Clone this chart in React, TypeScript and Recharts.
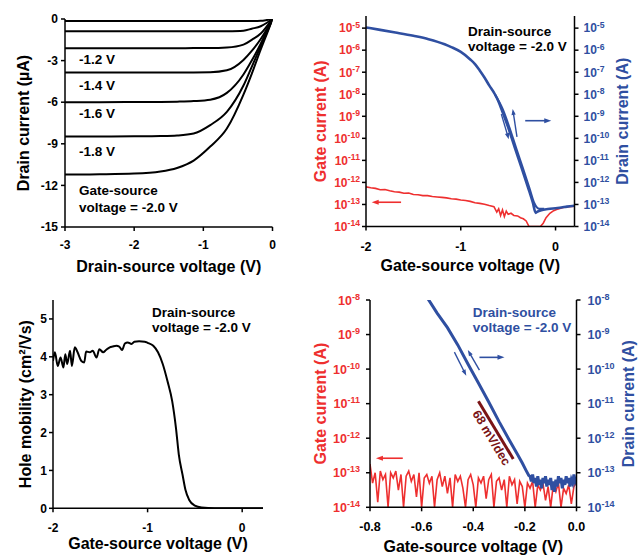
import { LineChart, Line, XAxis, YAxis, ReferenceLine, Label } from "recharts";

const FONT = "'Liberation Sans', Arial, Helvetica, sans-serif";
const RED = "#ee2f2f";
const BLUE = "#2f4fa1";
const DARK_RED = "#7a1416";

// Output curves: drain current (µA) vs drain-source voltage (V)
const vdsPoints = [-3, -2.5, -2, -1.62, -1.38, -1.14, -0.9, -0.66, -0.42, -0.3, -0.17, -0.08, 0];
const idVgs08 = [-0.15, -0.15, -0.15, -0.15, -0.15, -0.15, -0.15, -0.15, -0.15, -0.15, -0.13, -0.07, 0];
const idVgs10 = [-0.89, -0.89, -0.89, -0.89, -0.89, -0.89, -0.89, -0.88, -0.84, -0.7, -0.52, -0.27, 0];
const idVgs12 = [-2.11, -2.11, -2.11, -2.11, -2.11, -2.1, -2.1, -2.06, -1.85, -1.5, -1.05, -0.52, 0];
const idVgs14 = [-3.86, -3.86, -3.86, -3.86, -3.86, -3.85, -3.84, -3.7, -2.95, -2.3, -1.44, -0.72, 0];
const idVgs16 = [-6.0, -6.0, -5.99, -5.98, -5.96, -5.92, -5.82, -5.33, -4.0, -3.0, -1.78, -0.85, 0];
const idVgs18 = [-8.48, -8.47, -8.46, -8.44, -8.4, -8.26, -7.65, -6.7, -4.8, -3.45, -1.95, -0.95, 0];
const idVgs20 = [-11.22, -11.2, -11.15, -11.0, -10.74, -10.21, -9.2, -7.9, -5.45, -3.95, -2.2, -1.05, 0];
const outputTicksX = [-3, -2, -1, 0];
const outputTicksY = [-15, -12, -9, -6, -3, 0];
const outputLabels = ["-1.2 V", "-1.4 V", "-1.6 V", "-1.8 V"];

// Transfer curve (log10 of current in A) vs gate-source voltage
const drainDownV = [-2.0, -1.85, -1.69, -1.5, -1.34, -1.17, -1.1, -1.0, -0.9, -0.85, -0.8, -0.75, -0.7, -0.64, -0.6, -0.57, -0.5, -0.43, -0.36, -0.29, -0.24, -0.21, -0.19, -0.15, -0.08, 0.0, 0.06, 0.12, 0.2];
const drainDownLog = [-4.97, -5.08, -5.2, -5.35, -5.5, -5.73, -5.86, -6.08, -6.42, -6.63, -6.92, -7.24, -7.6, -8.0, -8.35, -8.68, -9.5, -10.42, -11.32, -12.23, -12.91, -13.38, -13.32, -13.26, -13.21, -13.17, -13.14, -13.1, -13.06];
const drainUpV = [-0.64, -0.558, -0.488, -0.418, -0.348, -0.278, -0.228, -0.2, -0.17, -0.12];
const drainUpLog = [-8.0, -8.68, -9.5, -10.42, -11.32, -12.23, -12.91, -13.12, -13.2, -13.2];
const gateV = [-2.0, -1.95, -1.9, -1.85, -1.8, -1.75, -1.7, -1.65, -1.6, -1.55, -1.5, -1.45, -1.4, -1.35, -1.3, -1.25, -1.2, -1.15, -1.1, -1.05, -1.0, -0.95, -0.9, -0.85, -0.8, -0.75, -0.7, -0.65, -0.62, -0.6, -0.58, -0.56, -0.54, -0.52, -0.5, -0.47, -0.44, -0.4, -0.37, -0.34, -0.31, -0.28, -0.22, -0.16, -0.13, -0.1, -0.06, -0.02, 0.03, 0.08, 0.14, 0.2];
const gateLog = [-12.2, -12.24, -12.27, -12.33, -12.32, -12.38, -12.42, -12.44, -12.49, -12.48, -12.55, -12.56, -12.6, -12.6, -12.64, -12.66, -12.68, -12.7, -12.74, -12.76, -12.8, -12.82, -12.86, -12.92, -12.95, -12.99, -13.05, -13.1, -13.35, -13.2, -13.5, -13.25, -13.55, -13.3, -13.45, -13.4, -13.5, -13.52, -13.6, -13.65, -13.75, -14.0, -14.0, -14.0, -13.85, -13.6, -13.4, -13.28, -13.2, -13.14, -13.1, -13.08];
const transferTicksX = [-2, -1, 0];
const transferTicksY = [1e-14, 1e-13, 1e-12, 1e-11, 1e-10, 1e-9, 1e-8, 1e-7, 1e-6, 1e-5];

// Hole mobility (cm²/Vs) vs gate-source voltage
const mobilityV = [-2.0, -1.98, -1.95, -1.92, -1.89, -1.87, -1.85, -1.82, -1.8, -1.77, -1.74, -1.7, -1.67, -1.65, -1.61, -1.58, -1.54, -1.51, -1.47, -1.44, -1.4, -1.37, -1.33, -1.3, -1.27, -1.24, -1.21, -1.17, -1.14, -1.09, -1.03, -1.0, -0.94, -0.89, -0.84, -0.79, -0.74, -0.7, -0.67, -0.63, -0.6, -0.56, -0.5, -0.43, -0.29, 0.22];
const mobility = [3.89, 4.12, 3.76, 3.98, 3.72, 4.07, 3.81, 4.16, 3.76, 4.25, 4.12, 3.89, 3.85, 4.14, 4.12, 4.16, 3.98, 4.2, 4.12, 4.18, 4.25, 4.27, 4.29, 4.27, 4.18, 4.35, 4.38, 4.34, 4.4, 4.41, 4.4, 4.37, 4.29, 4.12, 3.81, 3.36, 2.83, 2.12, 1.42, 0.88, 0.49, 0.22, 0.07, 0.02, 0, 0];
const mobilityTicksY = [0, 1, 2, 3, 4, 5];

// Subthreshold region (log10 of current in A)
const subDrainV = [-0.575, -0.54, -0.5, -0.46, -0.42, -0.38, -0.34, -0.3, -0.26, -0.23, -0.21, -0.195, -0.185, -0.18, -0.175, -0.17, -0.165, -0.16, -0.155, -0.15, -0.145, -0.14, -0.135, -0.13, -0.125, -0.12, -0.115, -0.11, -0.105, -0.1, -0.095, -0.09, -0.085, -0.08, -0.075, -0.07, -0.065, -0.06, -0.055, -0.05, -0.045, -0.04, -0.035, -0.03, -0.025, -0.02, -0.015, -0.01, -0.005, 0];
const subDrainLog = [-7.97, -8.38, -8.8, -9.3, -9.86, -10.4, -10.95, -11.52, -12.06, -12.45, -12.72, -12.94, -13.08, -13.1, -13.25, -13.05, -13.3, -13.15, -13.4, -13.1, -13.35, -13.2, -13.45, -13.15, -13.3, -13.1, -13.4, -13.2, -13.35, -13.15, -13.5, -13.25, -13.55, -13.2, -13.4, -13.1, -13.3, -13.15, -13.45, -13.2, -13.35, -13.1, -13.3, -13.15, -13.4, -13.2, -13.3, -13.05, -13.25, -13.15];
const subGateV = [-0.8, -0.79, -0.78, -0.77, -0.76, -0.75, -0.74, -0.73, -0.72, -0.71, -0.7, -0.69, -0.68, -0.67, -0.66, -0.65, -0.64, -0.63, -0.62, -0.61, -0.6, -0.59, -0.58, -0.57, -0.56, -0.55, -0.54, -0.53, -0.52, -0.51, -0.5, -0.49, -0.48, -0.47, -0.46, -0.45, -0.44, -0.43, -0.42, -0.41, -0.4, -0.39, -0.38, -0.37, -0.36, -0.35, -0.34, -0.33, -0.32, -0.31, -0.3, -0.29, -0.28, -0.27, -0.26, -0.25, -0.24, -0.23, -0.22, -0.21, -0.2, -0.19, -0.18, -0.17, -0.16, -0.15, -0.14, -0.13, -0.12, -0.11, -0.1, -0.09, -0.08, -0.07, -0.06, -0.05, -0.04, -0.03, -0.02, -0.01, 0];
const subGateLog = [-12.75, -13.3, -13.0, -13.85, -12.95, -13.2, -13.05, -14.0, -13.0, -13.15, -12.95, -13.5, -13.05, -14.0, -13.1, -12.95, -13.25, -13.05, -13.7, -13.0, -14.0, -13.15, -13.05, -13.3, -13.1, -14.0, -13.2, -13.0, -13.4, -13.1, -13.6, -13.15, -14.0, -13.05, -13.25, -13.1, -13.45, -14.0, -13.2, -13.05, -13.35, -14.0, -13.15, -13.3, -13.1, -13.75, -13.2, -13.05, -14.0, -13.25, -13.15, -13.5, -13.2, -14.0, -13.1, -13.35, -13.2, -13.9, -13.25, -13.4, -14.0, -13.3, -13.45, -13.25, -14.0, -13.35, -13.5, -13.3, -13.8, -13.4, -14.0, -13.35, -13.55, -13.3, -14.0, -13.45, -13.6, -13.35, -13.9, -13.4, -13.25];
const subTicksX = [-0.8, -0.6, -0.4, -0.2, 0];
const subTicksY = [1e-14, 1e-13, 1e-12, 1e-11, 1e-10, 1e-9, 1e-8];

const toTable = (xs: number[], ys: number[]) => xs.map((x, i) => ({ x, y: ys[i] }));
const toLogTable = (xs: number[], logs: number[]) => xs.map((x, i) => ({ x, y: Math.pow(10, logs[i]) }));

const tickFont = (size: number, fill = "#000") => ({ fill, fontSize: size, fontWeight: "bold", fontFamily: FONT });
const titleProps = { fontSize: 16, fontWeight: "bold", fontFamily: FONT } as const;
const noteProps = { fontSize: 13.5, fontWeight: "bold", fontFamily: FONT } as const;

function PowTick({ x, y, payload, textAnchor, color, size }: any) {
  const exp = Math.round(Math.log10(payload.value));
  return (
    <text x={x} y={y + size * 0.36} textAnchor={textAnchor} fill={color} fontFamily={FONT} fontWeight="bold" fontSize={size}>
      10<tspan dy={-size * 0.4} fontSize={size * 0.72}>{exp}</tspan>
    </text>
  );
}

const arrowShape = (color: string, head = 7, width = 1.6) => (p: any) => {
  const { x1, y1, x2, y2 } = p;
  const a = Math.atan2(y2 - y1, x2 - x1);
  const c = Math.cos(a);
  const s = Math.sin(a);
  const bx = x2 - head * c;
  const by = y2 - head * s;
  const hw = head * 0.36;
  return (
    <g>
      <line x1={x1} y1={y1} x2={bx + c} y2={by + s} stroke={color} strokeWidth={width} />
      <polygon points={`${x2},${y2} ${bx - hw * s},${by + hw * c} ${bx + hw * s},${by - hw * c}`} fill={color} />
    </g>
  );
};

const frame = { stroke: "#000", strokeWidth: 1.5 };

function OutputPanel() {
  const curves = [idVgs08, idVgs10, idVgs12, idVgs14, idVgs16, idVgs18, idVgs20];
  const labelY = [64, 90, 118, 155.5];
  return (
    <LineChart width={300} height={280} margin={{ top: 19, right: 27.5, bottom: 3, left: 0 }}>
      <XAxis dataKey="x" type="number" domain={[-3, 0]} ticks={outputTicksX} height={50} tickSize={4} tickMargin={9.5} {...frame} tick={tickFont(12)} allowDataOverflow>
        <Label value="Drain-source voltage (V)" position="insideBottom" offset={5.3} fill="#000" {...titleProps} />
      </XAxis>
      <XAxis xAxisId="top" orientation="top" type="number" domain={[-3, 0]} height={0} tick={false} tickLine={false} {...frame} />
      <YAxis type="number" domain={[-15, 0]} ticks={outputTicksY} interval={0} width={65} tickSize={4} tickMargin={3} {...frame} tick={tickFont(12)} allowDataOverflow>
        <Label value="Drain current (µA)" angle={-90} position="insideLeft" offset={23} textAnchor="middle" fill="#000" {...titleProps} />
      </YAxis>
      <YAxis yAxisId="right" orientation="right" type="number" domain={[-15, 0]} width={0} tick={false} tickLine={false} {...frame} />
      {curves.map((c, i) => (
        <Line key={i} data={toTable(vdsPoints, c)} dataKey="y" type="monotone" stroke="#000" strokeWidth={2} dot={false} isAnimationActive={false} />
      ))}
      {outputLabels.map((t, i) => (
        <text key={t} x={79} y={labelY[i]} fill="#000" {...noteProps}>{t}</text>
      ))}
      <text x={79} y={195} fill="#000" {...noteProps}>Gate-source</text>
      <text x={79} y={211.5} fill="#000" {...noteProps}>voltage = -2.0 V</text>
    </LineChart>
  );
}

function TransferPanel() {
  const dom: [number, number] = [1e-14, Math.pow(10, -4.45)];
  return (
    <LineChart width={338} height={280} margin={{ top: 16, right: 0, bottom: 3.5, left: 0 }}>
      <XAxis dataKey="x" type="number" domain={[-2, 0.2]} ticks={transferTicksX} height={50} tickSize={4} tickMargin={11.3} {...frame} tick={tickFont(12.5)} allowDataOverflow>
        <Label value="Gate-source voltage (V)" position="insideBottom" offset={5.5} fill="#000" {...titleProps} />
      </XAxis>
      <XAxis xAxisId="top" orientation="top" type="number" domain={[-2, 0.2]} height={0} tick={false} tickLine={false} {...frame} />
      <YAxis scale="log" type="number" domain={dom} ticks={transferTicksY} interval={0} width={66} tickSize={4} tickMargin={2} {...frame} tick={(p: any) => <PowTick {...p} color={RED} size={12} />} allowDataOverflow>
        <Label value="Gate current (A)" angle={-90} position="insideLeft" offset={20.7} textAnchor="middle" fill={RED} {...titleProps} />
      </YAxis>
      <YAxis yAxisId="r" orientation="right" scale="log" type="number" domain={dom} ticks={transferTicksY} interval={0} width={63.5} tickSize={4} tickMargin={5} {...frame} tick={(p: any) => <PowTick {...p} color={BLUE} size={12} />} allowDataOverflow>
        <Label value="Drain current (A)" angle={-90} position="insideRight" offset={16} textAnchor="middle" fill={BLUE} {...titleProps} />
      </YAxis>
      <Line data={toLogTable(gateV, gateLog)} dataKey="y" type="linear" stroke={RED} strokeWidth={1.6} dot={false} isAnimationActive={false} />
      <Line data={toLogTable(drainUpV, drainUpLog)} dataKey="y" type="monotone" stroke={BLUE} strokeWidth={2.2} dot={false} isAnimationActive={false} />
      <Line data={toLogTable(drainDownV, drainDownLog)} dataKey="y" type="monotone" stroke={BLUE} strokeWidth={2.6} dot={false} isAnimationActive={false} />
      <ReferenceLine segment={[{ x: -1.63, y: Math.pow(10, -12.9) }, { x: -1.94, y: Math.pow(10, -12.9) }]} shape={arrowShape(RED)} />
      <ReferenceLine segment={[{ x: -0.32, y: Math.pow(10, -9.2) }, { x: -0.045, y: Math.pow(10, -9.2) }]} shape={arrowShape(BLUE)} />
      <ReferenceLine segment={[{ x: -0.572, y: Math.pow(10, -8.9) }, { x: -0.494, y: Math.pow(10, -10.04) }]} shape={arrowShape(BLUE, 6, 1.4)} />
      <ReferenceLine segment={[{ x: -0.407, y: Math.pow(10, -9.93) }, { x: -0.452, y: Math.pow(10, -8.67) }]} shape={arrowShape(BLUE, 6, 1.4)} />
      <text x={168} y={36} fill="#000" {...noteProps}>Drain-source</text>
      <text x={168} y={50.5} fill="#000" {...noteProps}>voltage = -2.0 V</text>
    </LineChart>
  );
}

function MobilityPanel() {
  return (
    <LineChart width={300} height={278} margin={{ top: 20, right: 37, bottom: 4.7, left: 0 }}>
      <XAxis dataKey="x" type="number" domain={[-2, 0.22]} ticks={transferTicksX} height={45} tickSize={4} tickMargin={11.5} {...frame} tick={tickFont(12)} allowDataOverflow>
        <Label value="Gate-source voltage (V)" position="insideBottom" offset={4.3} fill="#000" {...titleProps} />
      </XAxis>
      <XAxis xAxisId="top" orientation="top" type="number" domain={[-2, 0.22]} height={0} tick={false} tickLine={false} {...frame} />
      <YAxis type="number" domain={[0, 5.5]} ticks={mobilityTicksY} interval={0} width={53} tickSize={4} tickMargin={2} {...frame} tick={tickFont(12)} allowDataOverflow>
        <Label value="Hole mobility (cm²/Vs)" angle={-90} position="insideLeft" offset={25} textAnchor="middle" fill="#000" {...titleProps} />
      </YAxis>
      <YAxis yAxisId="right" orientation="right" type="number" domain={[0, 5.5]} width={0} tick={false} tickLine={false} {...frame} />
      <Line data={toTable(mobilityV, mobility)} dataKey="y" type="monotone" stroke="#000" strokeWidth={2} dot={false} isAnimationActive={false} />
      <text x={152} y={37} fill="#000" {...noteProps}>Drain-source</text>
      <text x={152} y={51.5} fill="#000" {...noteProps}>voltage = -2.0 V</text>
    </LineChart>
  );
}

function SubthresholdPanel() {
  const dom: [number, number] = [1e-14, 1e-8];
  return (
    <LineChart width={338} height={278} margin={{ top: 20, right: 0, bottom: 2.7, left: 0 }}>
      <XAxis dataKey="x" type="number" domain={[-0.8, 0]} ticks={subTicksX} tickFormatter={(v: number) => v.toFixed(1)} height={48} tickSize={4} tickMargin={10.5} {...frame} tick={tickFont(12.5)} allowDataOverflow>
        <Label value="Gate-source voltage (V)" position="insideBottom" offset={3.6} fill="#000" {...titleProps} />
      </XAxis>
      <XAxis xAxisId="top" orientation="top" type="number" domain={[-0.8, 0]} height={0} tick={false} tickLine={false} {...frame} />
      <YAxis scale="log" type="number" domain={dom} ticks={subTicksY} interval={0} width={70} tickSize={4} tickMargin={6} {...frame} tick={(p: any) => <PowTick {...p} color={RED} size={12.5} />} allowDataOverflow>
        <Label value="Gate current (A)" angle={-90} position="insideLeft" offset={20.7} textAnchor="middle" fill={RED} {...titleProps} />
      </YAxis>
      <YAxis yAxisId="r" orientation="right" scale="log" type="number" domain={dom} ticks={subTicksY} interval={0} width={61.5} tickSize={4} tickMargin={7} {...frame} tick={(p: any) => <PowTick {...p} color={BLUE} size={12.5} />} allowDataOverflow>
        <Label value="Drain current (A)" angle={-90} position="insideRight" offset={9.5} textAnchor="middle" fill={BLUE} {...titleProps} />
      </YAxis>
      <Line data={toLogTable(subGateV, subGateLog)} dataKey="y" type="linear" stroke={RED} strokeWidth={1.6} dot={false} isAnimationActive={false} />
      <Line data={toLogTable(subDrainV, subDrainLog)} dataKey="y" type="linear" stroke={BLUE} strokeWidth={3} dot={false} isAnimationActive={false} />
      <ReferenceLine segment={[{ x: -0.38, y: Math.pow(10, -10.93) }, { x: -0.245, y: Math.pow(10, -12.6) }]} stroke={DARK_RED} strokeWidth={3} />
      <ReferenceLine segment={[{ x: -0.673, y: Math.pow(10, -12.58) }, { x: -0.777, y: Math.pow(10, -12.58) }]} shape={arrowShape(RED)} />
      <ReferenceLine segment={[{ x: -0.376, y: Math.pow(10, -9.66) }, { x: -0.279, y: Math.pow(10, -9.66) }]} shape={arrowShape(BLUE)} />
      <ReferenceLine segment={[{ x: -0.473, y: Math.pow(10, -9.51) }, { x: -0.427, y: Math.pow(10, -10.19) }]} shape={arrowShape(BLUE, 6, 1.4)} />
      <ReferenceLine segment={[{ x: -0.376, y: Math.pow(10, -10.03) }, { x: -0.421, y: Math.pow(10, -9.45) }]} shape={arrowShape(BLUE, 6, 1.4)} />
      <text x={188} y={160} transform="rotate(59 188 160)" textAnchor="middle" fill={DARK_RED} fontSize={12.5} fontWeight="bold" fontFamily={FONT}>68 mV/dec</text>
      <text x={172.7} y={36.5} fill={BLUE} {...noteProps}>Drain-source</text>
      <text x={172.7} y={51.5} fill={BLUE} {...noteProps}>voltage = -2.0 V</text>
    </LineChart>
  );
}

export default function App() {
  return (
    <div style={{ position: "absolute", left: 0, top: 0, width: 638, height: 558, background: "#fff", fontFamily: FONT }}>
      <div style={{ position: "absolute", left: 0, top: 0 }}><OutputPanel /></div>
      <div style={{ position: "absolute", left: 300, top: 0 }}><TransferPanel /></div>
      <div style={{ position: "absolute", left: 0, top: 280 }}><MobilityPanel /></div>
      <div style={{ position: "absolute", left: 300, top: 280 }}><SubthresholdPanel /></div>
    </div>
  );
}
